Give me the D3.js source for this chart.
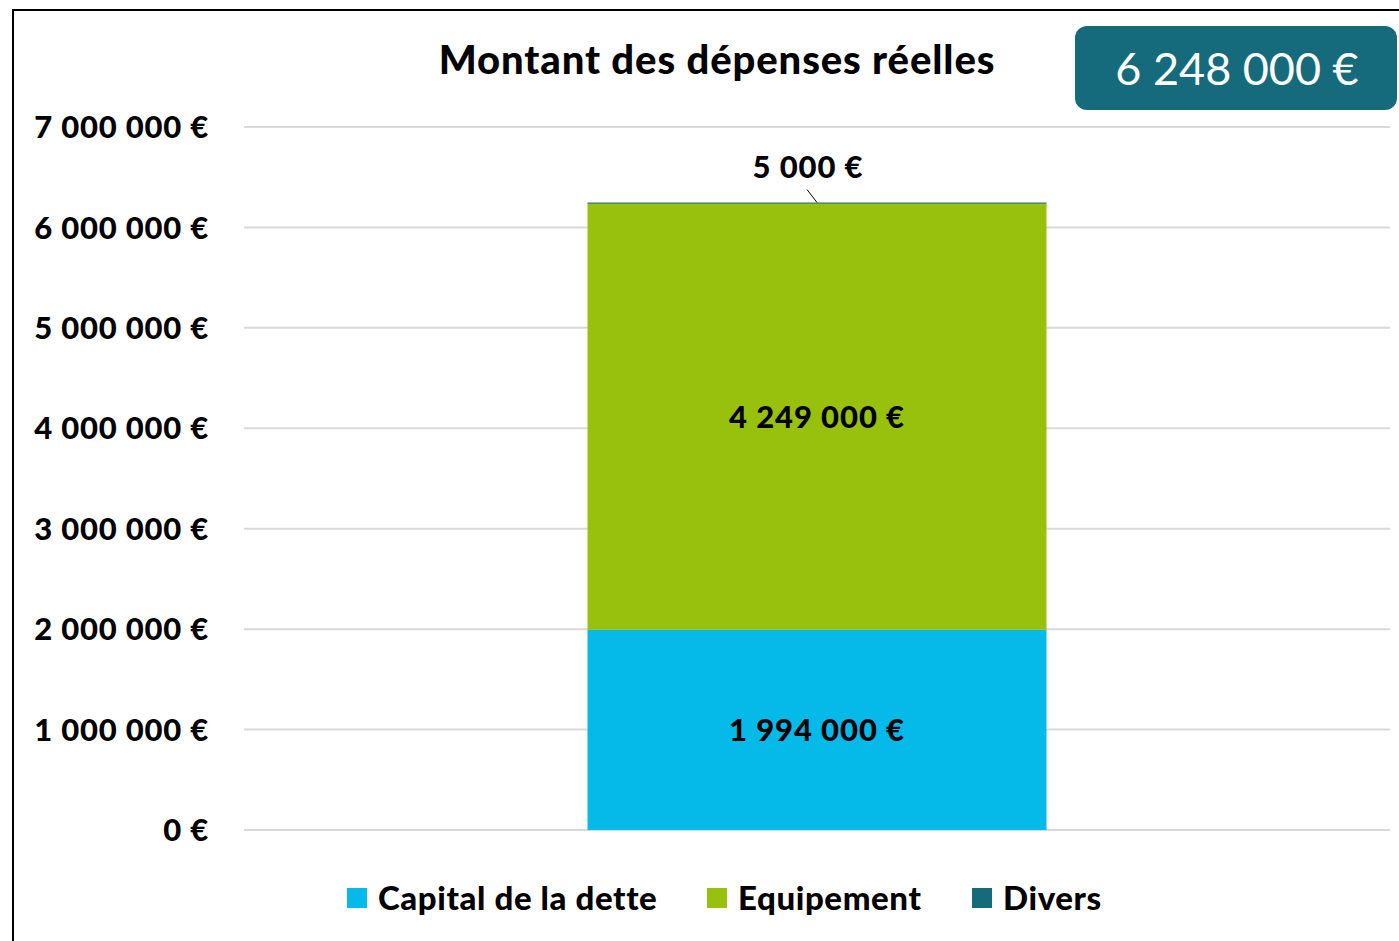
<!DOCTYPE html>
<html>
<head>
<meta charset="utf-8">
<script src="https://cdnjs.cloudflare.com/ajax/libs/d3/7.8.5/d3.min.js"></script>
<style>
  body { margin: 0; background: #fff; }
  svg { display: block; font-family: Lato, "Open Sans", sans-serif; }
</style>
</head>
<body>
<div id="chart"></div>
<script>
// data
var categories = ["Dépenses réelles"];
var seriesNames = ["Capital de la dette", "Equipement", "Divers"];
var seriesValues = [1994000, 4249000, 5000];
var seriesColors = ["#05b9e8", "#98c10e", "#156a7b"];
var yTicks = [0, 1000000, 2000000, 3000000, 4000000, 5000000, 6000000, 7000000];
var total = 6248000;

var W = 1399, H = 941;

var svg = d3.select("#chart").append("svg")
	.attr("width", W)
	.attr("height", H);

// frame (only top and left are visible in the picture)
svg.append("path")
	.attr("d", "M13,941 V10 H1399")
	.attr("fill", "none")
	.attr("stroke", "#000")
	.attr("stroke-width", 2);

var x = d3.scaleBand().domain(categories).range([244, 1390]).paddingInner(0).paddingOuter(0.3);
var y = d3.scaleLinear().domain([0, 7000000]).range([830, 127]);

function euro(v) {
	return d3.format(",")(v).replace(/,/g, " ") + " €";
}

// gridlines
svg.append("g").selectAll("line")
	.data(yTicks)
	.enter().append("line")
	.attr("x1", 244).attr("x2", 1390)
	.attr("y1", function(d){ return y(d); })
	.attr("y2", function(d){ return y(d); })
	.attr("stroke", "#d9d9d9")
	.attr("stroke-width", 2);

// y axis labels
svg.append("g").selectAll("text")
	.data(yTicks)
	.enter().append("text")
	.attr("x", 209)
	.attr("y", function(d){ return y(d); })
	.attr("dy", "0.36em")
	.attr("text-anchor", "end")
	.attr("font-size", 31)
	.attr("font-weight", 900)
	.attr("letter-spacing", 0.8)
	.attr("fill", "#000")
	.text(euro);

// stack
var row = {};
seriesNames.forEach(function(n, i){ row[n] = seriesValues[i]; });
var stack = d3.stack().keys(seriesNames)([row]);

var bw = 459;
var bx = x(categories[0]) + x.bandwidth() / 2 - bw / 2;

svg.append("g").selectAll("rect")
	.data(stack)
	.enter().append("rect")
	.attr("x", bx)
	.attr("width", bw)
	.attr("y", function(d){ return y(d[0][1]); })
	.attr("height", function(d){ return Math.max(1, y(d[0][0]) - y(d[0][1])); })
	.attr("fill", function(d, i){ return seriesColors[i]; });

// segment labels
var cx = bx + bw / 2;
stack.forEach(function(s, i){
	var v = seriesValues[i];
	if (i < 2) {
		svg.append("text")
			.attr("x", cx)
			.attr("y", y((s[0][0] + s[0][1]) / 2))
			.attr("dy", "0.36em")
			.attr("text-anchor", "middle")
			.attr("font-size", 31)
			.attr("font-weight", 900)
			.attr("letter-spacing", 0.9)
			.text(euro(v));
	} else {
		// small segment: label above with leader line
		var top = y(s[0][1]);
		svg.append("line")
			.attr("x1", cx - 10).attr("y1", top - 13)
			.attr("x2", cx).attr("y2", top)
			.attr("stroke", "#000").attr("stroke-width", 1);
		svg.append("text")
			.attr("x", cx - 9)
			.attr("y", top - 25)
			.attr("text-anchor", "middle")
			.attr("font-size", 31)
			.attr("font-weight", 900)
			.attr("letter-spacing", 0.9)
			.text(euro(v));
	}
});

// title
svg.append("text")
	.attr("x", 717)
	.attr("y", 74)
	.attr("text-anchor", "middle")
	.attr("font-size", 40)
	.attr("font-weight", 900)
	.attr("letter-spacing", 0.9)
	.text("Montant des dépenses réelles");

// total box
svg.append("rect")
	.attr("x", 1075).attr("y", 26)
	.attr("width", 322).attr("height", 84)
	.attr("rx", 12)
	.attr("fill", "#156a7b");
svg.append("text")
	.attr("x", 1237)
	.attr("y", 69)
	.attr("dy", "0.36em")
	.attr("text-anchor", "middle")
	.attr("font-size", 45)
	.attr("fill", "#fff")
	.text(euro(total));

// legend
var legendX = [347, 707, 972];
var lg = svg.append("g").selectAll("g")
	.data(seriesNames)
	.enter().append("g")
	.attr("transform", function(d, i){ return "translate(" + legendX[i] + ",888)"; });
lg.append("rect")
	.attr("width", 20).attr("height", 20)
	.attr("fill", function(d, i){ return seriesColors[i]; });
lg.append("text")
	.attr("x", 31)
	.attr("y", 10)
	.attr("dy", "0.36em")
	.attr("font-size", 33)
	.attr("font-weight", 900)
	.attr("letter-spacing", 0.6)
	.text(function(d){ return d; });
</script>
</body>
</html>
